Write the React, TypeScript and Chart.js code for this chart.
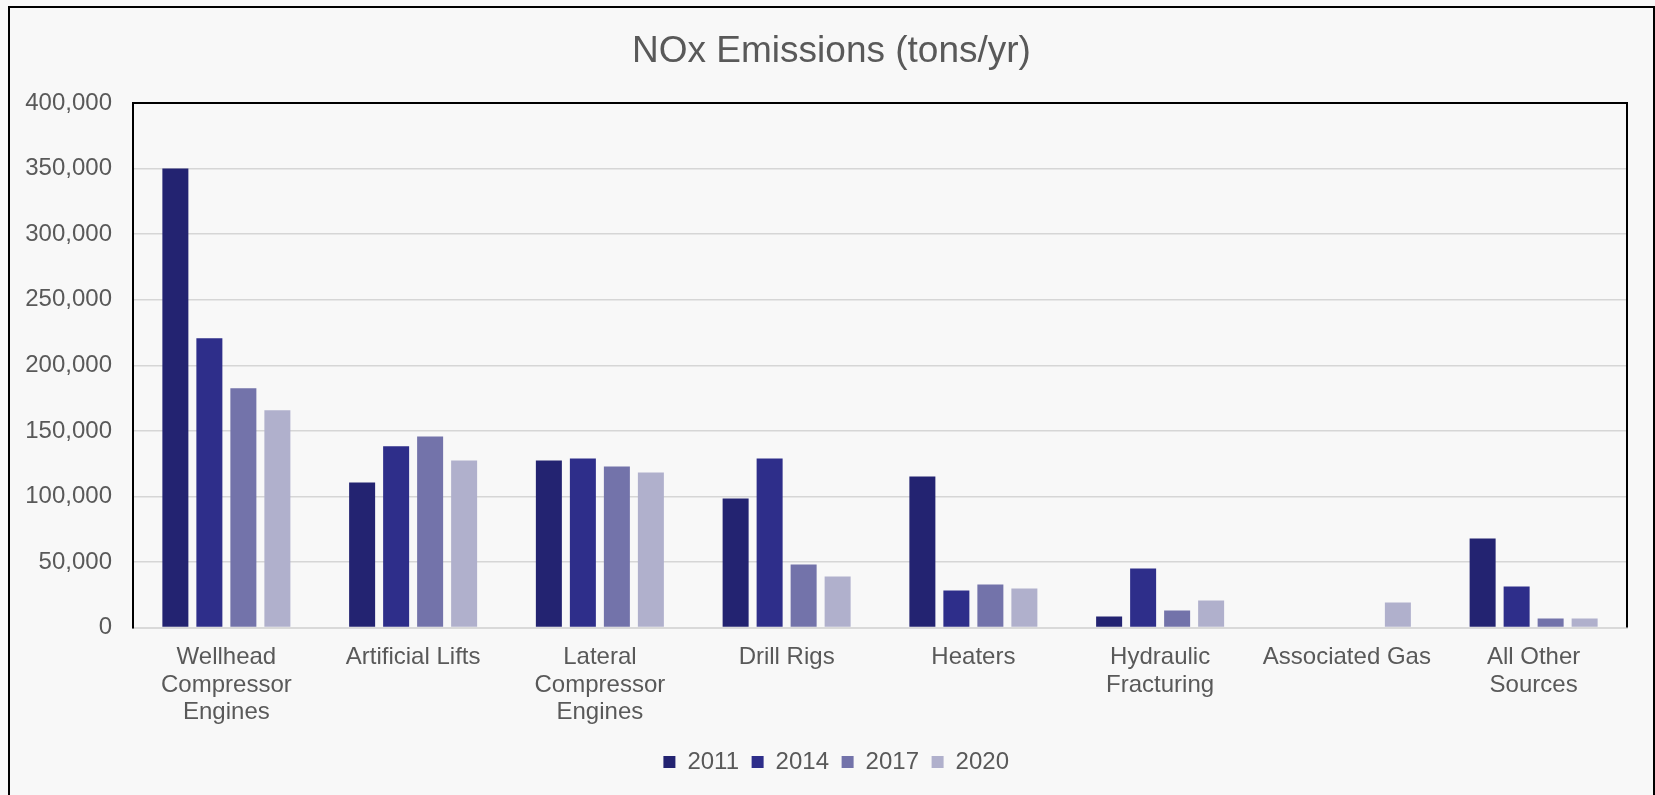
import React, { useEffect, useRef } from "react";
import { Chart, registerables } from "chart.js";

Chart.register(...registerables);

const categories: string[][] = [
  ["Wellhead", "Compressor", "Engines"],
  ["Artificial Lifts"],
  ["Lateral", "Compressor", "Engines"],
  ["Drill Rigs"],
  ["Heaters"],
  ["Hydraulic", "Fracturing"],
  ["Associated Gas"],
  ["All Other", "Sources"],
];

const values2011 = [350000, 110700, 127500, 98500, 115300, 8400, 0, 67900];
const values2014 = [220600, 138200, 129000, 129000, 28200, 45000, 0, 31300];
const values2017 = [182500, 145800, 122900, 48100, 32800, 13000, 0, 6900];
const values2020 = [165700, 127500, 118300, 38900, 29800, 20600, 19100, 6900];

const seriesLabels = ["2011", "2014", "2017", "2020"];
const seriesColors = ["#232371", "#2e2e8a", "#7373aa", "#b0b0cc"];

const titleText = "NOx Emissions (tons/yr)";
const yMin = 0;
const yMax = 400000;
const yStep = 50000;

const TEXT = "#595959";
const BG = "#f8f8f8";
const FONT = "'Liberation Sans', Arial, sans-serif";

const plotBorder = {
  id: "plotBorder",
  afterLayout(chart: any) {
    const lg = chart.legend;
    if (lg) {
      lg.left += 11.7;
      lg.right += 11.7;
    }
    const tb = chart.titleBlock;
    if (tb) {
      tb.left += 7;
      tb.right += 7;
    }
  },
  afterDraw(chart: any) {
    const { ctx, chartArea } = chart;
    ctx.save();
    ctx.strokeStyle = "#000000";
    ctx.lineWidth = 2;
    ctx.beginPath();
    ctx.moveTo(chartArea.left, chartArea.bottom);
    ctx.lineTo(chartArea.left, chartArea.top);
    ctx.lineTo(chartArea.right, chartArea.top);
    ctx.lineTo(chartArea.right, chartArea.bottom);
    ctx.stroke();
    ctx.restore();
  },
};

export default function App() {
  const canvasRef = useRef<HTMLCanvasElement | null>(null);

  useEffect(() => {
    document.body.style.background = BG;
    document.body.style.margin = "0";
    document.body.style.overflow = "hidden";
    const canvas = canvasRef.current;
    if (!canvas) return;
    Chart.defaults.font.family = FONT;
    const datasets = [values2011, values2014, values2017, values2020].map((vals, i) => ({
      label: seriesLabels[i],
      data: vals,
      backgroundColor: seriesColors[i],
      borderColor: seriesColors[i],
      borderWidth: 0,
      categoryPercentage: 0.7283,
      barPercentage: 0.7647,
    }));
    const chart = new Chart(canvas, {
      type: "bar",
      data: { labels: categories as any, datasets },
      plugins: [plotBorder],
      options: {
        animation: false,
        responsive: true,
        maintainAspectRatio: false,
        layout: { padding: { left: 12, right: 26, top: 0, bottom: 24 } },
        plugins: {
          title: {
            display: true,
            text: titleText,
            color: TEXT,
            font: { size: 37, weight: "normal", family: FONT },
            padding: { top: 22, bottom: 28.6 },
          },
          legend: {
            position: "bottom",
            labels: {
              boxWidth: 12,
              boxHeight: 12,
              padding: 12.6,
              color: TEXT,
              font: { size: 24, family: FONT },
            },
          },
          tooltip: { enabled: false },
        },
        scales: {
          x: {
            grid: { display: false, drawTicks: false },
            border: { display: true, color: "#d9d9d9", width: 2 },
            ticks: {
              color: TEXT,
              font: { size: 24, family: FONT, lineHeight: 1.15 },
              padding: 16,
              maxRotation: 0,
              autoSkip: false,
            },
            afterFit: (scale: any) => {
              scale.height -= 5;
            },
          },
          y: {
            min: yMin,
            max: yMax,
            grid: { color: "#d6d6d6", lineWidth: 1.5, drawTicks: false },
            border: { display: true, color: "#000000", width: 2 },
            ticks: {
              stepSize: yStep,
              color: TEXT,
              font: { size: 24, family: FONT },
              padding: 21,
              callback: (v: any) => Number(v).toLocaleString("en-US"),
            },
            afterFit: (scale: any) => {
              scale.width = 111;
            },
          },
        },
      },
    });
    return () => chart.destroy();
  }, []);

  return (
    <div
      style={{
        position: "absolute",
        left: 8,
        top: 6,
        width: 1647,
        height: 789,
        boxSizing: "border-box",
        borderTop: "2px solid #000000",
        borderLeft: "2px solid #000000",
        borderRight: "2px solid #000000",
        background: BG,
        overflow: "hidden",
      }}
    >
      <div style={{ position: "relative", width: 1643, height: 800 }}>
        <canvas ref={canvasRef} />
      </div>
    </div>
  );
}
